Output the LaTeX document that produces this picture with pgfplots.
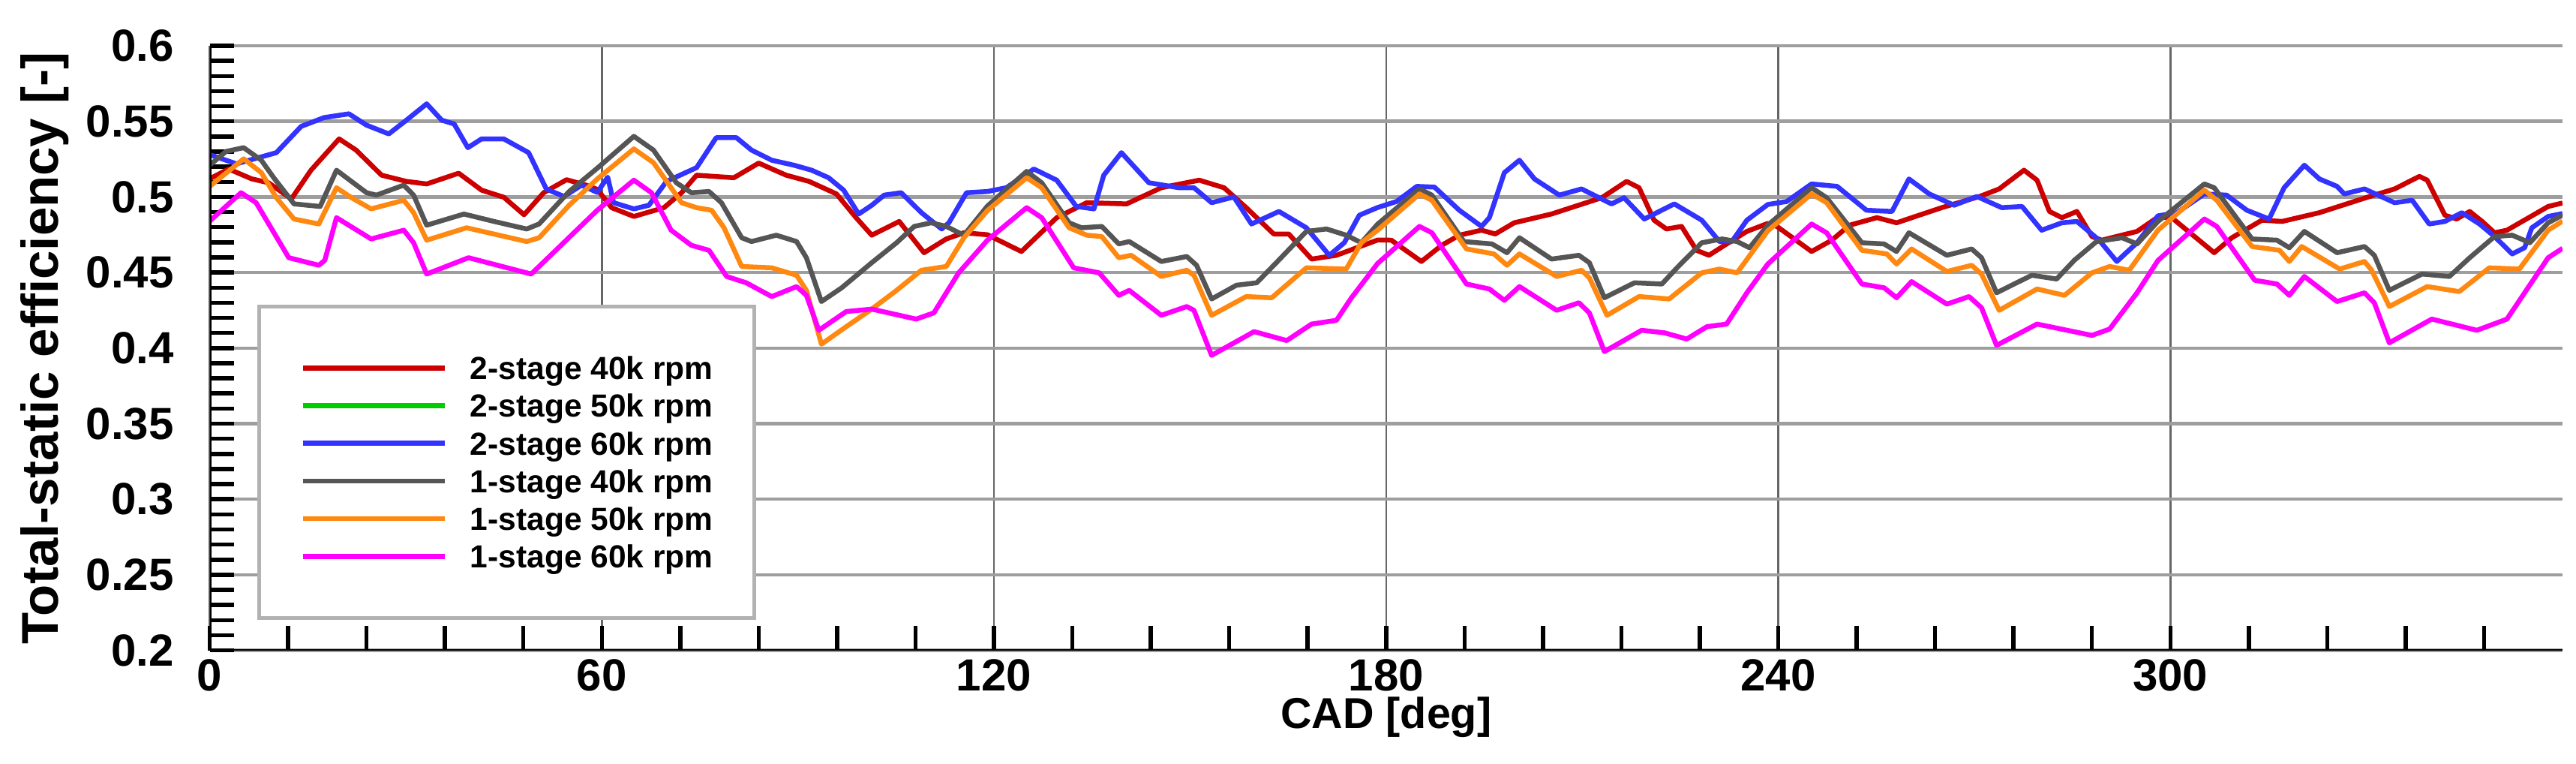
\documentclass[border=0pt]{standalone}
\usepackage{fontspec}
\setmainfont{Liberation Sans}
\usepackage{pgfplots}
\pgfplotsset{compat=1.18}
\usepackage{pgfplotstable}

\definecolor{c2s40}{RGB}{204,0,0}
\definecolor{c2s50}{RGB}{0,204,0}
\definecolor{c2s60}{RGB}{51,51,255}
\definecolor{c1s40}{RGB}{85,85,85}
\definecolor{c1s50}{RGB}{255,136,17}
\definecolor{c1s60}{RGB}{255,0,255}

% 2-stage 40k rpm
\pgfplotstableread{
x y
0 0.512
2.9 0.5185
6.4 0.512
9.0 0.5094
12.5 0.4987
15.5 0.5177
19.8 0.5384
22.4 0.531
26.3 0.5144
30.1 0.5103
33.2 0.5086
38.1 0.5157
41.6 0.5045
45.0 0.4998
48.1 0.4882
51.1 0.5028
54.6 0.5114
57.6 0.5078
59.3 0.505
61.5 0.4929
64.9 0.4871
69.5 0.4929
72.2 0.5028
74.5 0.5144
80.2 0.5127
84.0 0.5224
88.2 0.5144
91.7 0.5103
95.9 0.502
98.9 0.4863
101.3 0.4747
105.5 0.4838
109.3 0.4631
112.7 0.4722
115.4 0.4763
119.0 0.4750
124.2 0.4639
129.6 0.4863
134.2 0.4962
140.3 0.4954
145.6 0.5061
151.4 0.5111
155.2 0.5061
158.6 0.4929
162.8 0.4755
165.1 0.4755
168.6 0.4589
172.4 0.4614
178.7 0.4715
180.8 0.4714
185.4 0.4573
188.5 0.468
191.2 0.4747
194.6 0.478
196.7 0.4755
199.6 0.4829
205.3 0.4887
213.0 0.4995
216.8 0.5103
218.7 0.5061
221.0 0.4846
222.9 0.4788
225.2 0.4805
227.5 0.4647
229.4 0.4614
232.1 0.4689
235.2 0.4772
238.4 0.4825
239.8 0.4805
245.1 0.4639
248.2 0.4714
250.9 0.4813
255.1 0.4863
258.1 0.4829
265.0 0.4929
270.8 0.5003
273.8 0.5053
277.6 0.5177
279.6 0.5111
281.5 0.4904
283.4 0.4863
285.7 0.4904
288.0 0.4738
289.5 0.4714
294.9 0.4772
298.1 0.4867
300.2 0.4863
306.7 0.4631
309.4 0.473
314.0 0.4846
317.1 0.4838
322.8 0.4896
330.5 0.5003
334.3 0.5053
338.1 0.5136
339.3 0.5111
342.0 0.4879
343.8 0.4854
345.8 0.4904
347.7 0.4838
349.6 0.4763
351.5 0.478
357.8 0.4937
360 0.496
}\twoFourty

% 2-stage 60k rpm
\pgfplotstableread{
x y
0 0.528
4.1 0.5219
10.2 0.5293
14.0 0.5467
17.5 0.5525
21.3 0.555
24.0 0.5475
27.4 0.5417
30.1 0.5508
33.2 0.5616
35.5 0.5508
37.4 0.5483
39.5 0.5326
41.6 0.5384
45.0 0.5384
48.8 0.5293
51.5 0.5053
54.2 0.5003
56.9 0.5078
59.3 0.503
60.9 0.5131
61.8 0.4962
64.9 0.4921
67.2 0.4945
69.9 0.5103
74.5 0.5194
77.5 0.5392
80.6 0.5392
82.9 0.531
86.0 0.5243
89.4 0.521
92.1 0.5177
94.7 0.5127
97.0 0.5045
99.3 0.4887
101.3 0.4945
103.2 0.5012
105.8 0.5028
108.9 0.4896
112.0 0.4788
113.1 0.4829
115.8 0.5028
119.0 0.5036
121.9 0.5061
126.1 0.5185
129.6 0.5111
132.6 0.4937
135.3 0.4921
136.8 0.5144
139.5 0.5293
143.7 0.5094
148.3 0.5061
150.6 0.5061
153.3 0.4962
156.7 0.5
159.4 0.4821
163.6 0.4904
167.8 0.4796
171.3 0.4614
173.6 0.4697
175.9 0.4879
178.7 0.493
181.6 0.497
184.7 0.507
187.4 0.5065
191.2 0.4912
194.6 0.4805
195.8 0.4863
198.1 0.5161
200.4 0.5243
202.7 0.5119
206.5 0.5012
209.9 0.5053
214.5 0.4954
216.4 0.4995
219.5 0.4854
224.1 0.4954
228.3 0.4846
231.0 0.4705
232.9 0.4705
235.2 0.4846
238.4 0.495
241.3 0.497
245.1 0.5086
249.0 0.507
253.5 0.4912
257.4 0.4904
260.0 0.5119
263.1 0.502
266.9 0.4945
270.4 0.5003
274.2 0.4929
277.3 0.4937
280.3 0.478
283.4 0.4829
285.7 0.4838
289.1 0.4714
291.8 0.4573
294.9 0.4697
298.1 0.4875
301.0 0.4896
305.2 0.502
308.6 0.5012
311.7 0.4912
315.1 0.4854
317.4 0.5061
320.5 0.521
322.8 0.5119
325.5 0.507
326.6 0.502
329.7 0.5053
334.3 0.4962
337.0 0.4978
339.6 0.4821
342.0 0.4838
344.6 0.4896
347.3 0.4821
349.6 0.4738
352.3 0.4623
354.2 0.4664
355.3 0.4796
357.8 0.4871
360 0.489
}\twoSixty

% 1-stage 40k rpm
\pgfplotstableread{
x y
0 0.521
2.5 0.5301
5.2 0.5326
7.9 0.5243
9.8 0.5127
12.9 0.4954
16.9 0.4937
19.4 0.5177
24.0 0.5028
25.5 0.5012
29.7 0.5078
31.2 0.5012
33.2 0.4813
38.9 0.4887
43.5 0.4838
48.5 0.4788
50.4 0.4821
55.0 0.5036
59.3 0.519
64.9 0.5401
67.9 0.531
71.4 0.5094
73.7 0.5028
76.4 0.5036
78.3 0.4962
81.4 0.473
82.9 0.4705
86.7 0.4747
89.8 0.4705
91.3 0.4598
93.6 0.4308
96.7 0.4399
101.3 0.4565
105.1 0.4697
107.8 0.4805
110.4 0.4829
112.7 0.4805
115.4 0.4747
119.0 0.494
125.0 0.5169
127.3 0.5094
131.5 0.4829
133.4 0.4796
136.5 0.4805
139.1 0.4689
140.7 0.4705
145.6 0.4573
149.5 0.4606
151.0 0.4548
153.3 0.4325
157.1 0.4416
160.2 0.4432
163.2 0.4565
167.8 0.4772
170.9 0.4788
173.9 0.4747
176.2 0.4697
178.7 0.482
185.1 0.5053
187.0 0.5012
191.9 0.4705
196.2 0.4689
198.5 0.4631
200.4 0.473
205.3 0.4589
209.5 0.4614
211.1 0.4565
213.4 0.4333
218.0 0.4432
222.2 0.4424
224.5 0.4531
228.3 0.4697
231.4 0.4722
233.7 0.4705
235.6 0.4664
238.4 0.4813
245.1 0.5061
247.4 0.4995
252.8 0.4697
256.2 0.4689
258.1 0.4639
260.0 0.4763
265.8 0.4614
269.6 0.4656
271.1 0.4598
273.4 0.4366
278.8 0.4482
282.6 0.4457
285.3 0.4581
288.7 0.4705
292.6 0.473
294.9 0.4689
298.1 0.4838
305.2 0.5086
306.7 0.5061
312.5 0.4722
316.3 0.4714
318.2 0.4664
320.5 0.4772
325.5 0.4631
329.7 0.4672
331.2 0.4614
333.5 0.4382
338.5 0.449
342.7 0.4474
345.8 0.4598
349.6 0.4738
352.3 0.4747
355.0 0.4697
357.8 0.4829
360 0.488
}\oneFourty

% 1-stage 50k rpm
\pgfplotstableread{
x y
0 0.507
5.2 0.5252
7.9 0.5161
10.2 0.4995
12.9 0.4854
16.7 0.4821
19.4 0.5061
21.7 0.4995
24.7 0.4921
29.7 0.4978
31.2 0.4896
33.2 0.4714
39.3 0.4796
48.5 0.4705
50.4 0.473
55.0 0.4945
59.3 0.5119
64.9 0.5318
67.9 0.5227
72.2 0.4962
74.5 0.4929
76.8 0.4912
78.7 0.4796
81.4 0.454
86.0 0.4531
89.8 0.4482
91.3 0.4382
93.6 0.4026
97.4 0.4142
101.3 0.4258
105.1 0.4382
108.9 0.4515
112.7 0.454
115.4 0.473
119.0 0.491
125.0 0.5127
127.3 0.5061
131.5 0.4796
134.2 0.4747
136.5 0.4738
139.1 0.4598
141.0 0.4614
145.6 0.4474
149.5 0.4515
150.6 0.4482
153.3 0.4217
158.6 0.4341
162.5 0.4333
167.8 0.4531
173.9 0.4523
176.2 0.4697
178.7 0.478
185.1 0.502
187.0 0.4978
192.3 0.4656
196.5 0.4623
198.5 0.4548
200.4 0.4623
206.1 0.4474
209.9 0.4515
211.1 0.4465
213.8 0.4217
218.7 0.4341
223.3 0.4325
228.3 0.4498
231.0 0.4523
233.7 0.4498
238.4 0.4776
245.1 0.502
247.4 0.4962
252.8 0.4647
256.6 0.4623
258.1 0.4556
260.4 0.4656
265.8 0.4507
269.6 0.4548
271.1 0.449
273.8 0.425
279.6 0.4391
283.8 0.4349
288.0 0.4498
290.7 0.454
293.7 0.4515
298.1 0.478
305.2 0.5045
307.1 0.4978
312.5 0.4672
316.7 0.4647
318.2 0.4573
320.1 0.4672
325.9 0.4523
329.7 0.4573
330.8 0.4515
333.5 0.4275
339.3 0.4407
344.2 0.4374
348.8 0.4531
353.4 0.4523
357.8 0.478
360 0.484
}\oneFifty

% 1-stage 60k rpm
\pgfplotstableread{
x y
0 0.484
4.8 0.5028
7.1 0.4962
12.1 0.4598
16.7 0.4548
17.6 0.458
19.4 0.4863
24.7 0.4722
29.7 0.478
31.2 0.4697
33.2 0.449
39.6 0.4598
49.2 0.449
59.3 0.4912
64.9 0.5111
67.6 0.5028
70.6 0.478
73.7 0.468
76.4 0.4647
79.1 0.4474
82.1 0.4432
86.0 0.4341
89.8 0.4407
91.3 0.4349
93.2 0.4118
97.4 0.4242
101.3 0.4258
108.1 0.4192
110.8 0.4233
114.6 0.4498
119.0 0.4714
125.0 0.4929
127.3 0.4863
132.2 0.4531
136.1 0.4498
139.1 0.4349
140.7 0.4382
145.6 0.4217
149.5 0.4275
150.6 0.425
153.3 0.3952
159.8 0.4109
164.8 0.405
168.6 0.4159
172.4 0.4184
174.7 0.4333
178.7 0.456
185.1 0.4805
187.0 0.4763
192.3 0.4424
195.8 0.4391
198.1 0.4316
200.4 0.4407
206.1 0.425
209.5 0.43
211.1 0.4233
213.4 0.3977
219.1 0.4118
222.6 0.4101
226.0 0.406
229.1 0.4142
232.1 0.4159
235.2 0.4366
238.4 0.4556
245.1 0.4821
247.4 0.4763
252.8 0.4424
256.2 0.4399
258.1 0.4333
260.4 0.444
265.8 0.4291
269.2 0.4341
271.1 0.4267
273.4 0.4018
279.6 0.4159
284.2 0.4118
288.0 0.4084
290.7 0.4126
294.9 0.4366
298.1 0.458
305.2 0.4854
307.1 0.4805
312.9 0.4449
316.3 0.4424
318.2 0.4349
320.5 0.4474
325.5 0.4308
329.7 0.4366
331.2 0.43
333.5 0.4035
340.0 0.4192
346.9 0.4118
351.5 0.4192
357.8 0.4598
360 0.466
}\oneSixty

\begin{document}
\begin{tikzpicture}
\begin{axis}[
    scale only axis,
    width=627.2pt, height=161.1pt,
    xmin=0, xmax=360, ymin=0.2, ymax=0.6,
    axis line style={draw=none},
    xtick pos=left, ytick pos=left,
    xtick={0,60,120,180,240,300},
    minor xtick={12,24,36,48,72,84,96,108,132,144,156,168,192,204,216,228,252,264,276,288,312,324,336,348},
    ytick={0.2,0.25,0.3,0.35,0.4,0.45,0.5,0.55,0.6},
    minor ytick={0.21,0.22,0.23,0.24,0.26,0.27,0.28,0.29,0.31,0.32,0.33,0.34,0.36,0.37,0.38,0.39,0.41,0.42,0.43,0.44,0.46,0.47,0.48,0.49,0.51,0.52,0.53,0.54,0.56,0.57,0.58,0.59},
    tick align=inside,
    major tick length=6.5pt, minor tick length=6.5pt,
    tick style={line width=1.1pt, black},
    xmajorgrids, ymajorgrids,
    x grid style={line width=0.5pt, black!60},
    y grid style={line width=0.9pt, black!38},
    /pgf/number format/assume math mode=true,
    tick label style={font=\fontsize{12}{14}\selectfont\bfseries},
    xticklabel style={inner sep=0pt, yshift=-2.2pt},
    yticklabel style={inner sep=0pt, xshift=-9.4pt},
    xlabel={CAD [deg]},
    xlabel style={font=\fontsize{11.5}{13}\selectfont\bfseries,
        at={(axis description cs:0.5,-0.1291)}, anchor=base, inner sep=0pt},
    ylabel={Total-static efficiency [-]},
    ylabel style={font=\fontsize{13.8}{16}\selectfont\bfseries,
        at={(axis description cs:-0.0807,0.5)}, anchor=north, inner sep=0pt},
    legend style={at={(axis description cs:0.0202,0.5717)}, anchor=north west,
        draw=black!30, line width=1pt, fill=white,
        inner xsep=11pt, inner ysep=13.3pt, row sep=3.94pt, column sep=6.2pt,
        font=\fontsize{8.5}{10}\selectfont\bfseries,
        nodes={inner sep=0pt, text height=6.1pt, text depth=0pt},
        cells={anchor=west}},
    legend image code/.code={\draw[#1, line width=1.3pt] (0pt,0pt) -- (37.8pt,0pt);},
    no markers,
    every axis plot/.append style={line width=1.3pt, line join=round},
]
\addplot[c2s40] table {\twoFourty};
\addlegendimage{c2s50, line width=1.3pt}
\addplot[c2s60] table {\twoSixty};
\addplot[c1s40] table {\oneFourty};
\addplot[c1s50] table {\oneFifty};
\addplot[c1s60] table {\oneSixty};
\legend{2-stage 40k rpm, 2-stage 50k rpm, 2-stage 60k rpm, 1-stage 40k rpm, 1-stage 50k rpm, 1-stage 60k rpm}
\draw[line width=1pt, black] (rel axis cs:0,0) -- (rel axis cs:0,1);
\draw[line width=0.8pt, black] (rel axis cs:0,0) -- (rel axis cs:1,0);
\end{axis}
\pgfresetboundingbox
\path (-55.9pt,-30.1pt) rectangle (630.8pt,173.3pt);
\end{tikzpicture}
\end{document}
